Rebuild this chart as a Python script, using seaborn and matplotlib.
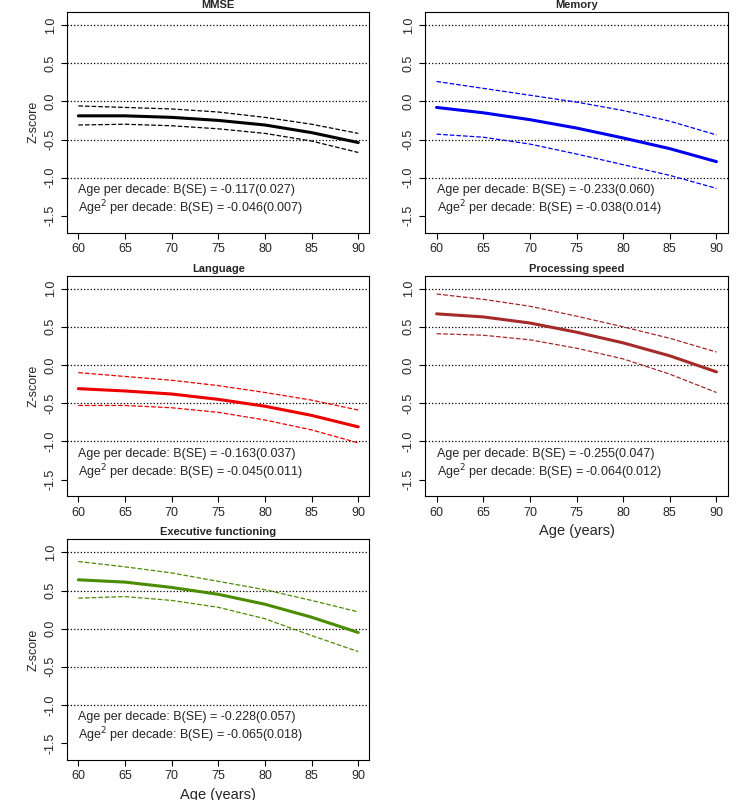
import matplotlib
matplotlib.use("Agg")
import matplotlib.pyplot as plt
import seaborn as sns
import pandas as pd

ages = [60, 65, 70, 75, 80, 85, 90]
titles = ["MMSE", "Memory", "Language", "Processing speed", "Executive functioning"]
colors = ["black", "#0000ee", "#ee0000", "#a52a2a", "#4c8c00"]
mmse_mean = [-0.19, -0.19, -0.21, -0.25, -0.31, -0.41, -0.54]
mmse_up = [-0.06, -0.08, -0.10, -0.14, -0.21, -0.30, -0.42]
mmse_lo = [-0.31, -0.30, -0.32, -0.36, -0.42, -0.52, -0.67]
mem_mean = [-0.08, -0.15, -0.24, -0.35, -0.48, -0.62, -0.79]
mem_up = [0.26, 0.17, 0.08, -0.01, -0.12, -0.26, -0.44]
mem_lo = [-0.43, -0.47, -0.56, -0.69, -0.83, -0.97, -1.14]
lang_mean = [-0.31, -0.34, -0.38, -0.45, -0.54, -0.66, -0.81]
lang_up = [-0.10, -0.15, -0.20, -0.27, -0.36, -0.46, -0.59]
lang_lo = [-0.53, -0.53, -0.56, -0.62, -0.72, -0.85, -1.02]
ps_mean = [0.67, 0.63, 0.55, 0.43, 0.29, 0.12, -0.09]
ps_up = [0.93, 0.86, 0.77, 0.64, 0.50, 0.35, 0.17]
ps_lo = [0.41, 0.39, 0.33, 0.22, 0.08, -0.12, -0.36]
ef_mean = [0.64, 0.61, 0.54, 0.45, 0.32, 0.15, -0.05]
ef_up = [0.88, 0.81, 0.73, 0.62, 0.51, 0.37, 0.22]
ef_lo = [0.40, 0.42, 0.37, 0.28, 0.13, -0.09, -0.30]
b_age = ["-0.117(0.027)", "-0.233(0.060)", "-0.163(0.037)", "-0.255(0.047)", "-0.228(0.057)"]
b_age2 = ["-0.046(0.007)", "-0.038(0.014)", "-0.045(0.011)", "-0.064(0.012)", "-0.065(0.018)"]
yticks = [-1.5, -1.0, -0.5, 0.0, 0.5, 1.0]
xticks = [60, 65, 70, 75, 80, 85, 90]

series = [(mmse_mean, mmse_up, mmse_lo), (mem_mean, mem_up, mem_lo),
          (lang_mean, lang_up, lang_lo), (ps_mean, ps_up, ps_lo), (ef_mean, ef_up, ef_lo)]

sns.set_style("white")
plt.rcParams['font.family'] = ['Liberation Sans', 'DejaVu Sans']
fig, axes = plt.subplots(3, 2, figsize=(7.38, 8.0), dpi=100)
fig.subplots_adjust(left=0.091, right=0.986, top=0.985, bottom=0.05, hspace=0.195, wspace=0.185)
axes = axes.flatten()
axes[5].axis("off")
for i, (ax, (m, u, l)) in enumerate(zip(axes, series)):
    df = pd.DataFrame({"age": ages, "mean": m, "up": u, "lo": l})
    sns.lineplot(data=df, x="age", y="mean", ax=ax, color=colors[i], lw=2.2)
    sns.lineplot(data=df, x="age", y="up", ax=ax, color=colors[i], lw=0.9, linestyle="--")
    sns.lineplot(data=df, x="age", y="lo", ax=ax, color=colors[i], lw=0.9, linestyle="--")
    for y in [-1.0, -0.5, 0.0, 0.5, 1.0]:
        ax.axhline(y, color="black", lw=0.9, linestyle=":", zorder=0)
    ax.set_xlim(58.8, 91.2)
    ax.set_ylim(-1.72, 1.17)
    ax.set_yticks(yticks)
    ax.set_yticklabels([f"{t:.1f}" for t in yticks], rotation=90, va="center", fontsize=9)
    ax.set_xticks(xticks)
    ax.set_xticklabels([str(t) for t in xticks], fontsize=9)
    ax.set_title(titles[i], fontsize=8, fontweight="bold", pad=3)
    ax.set_ylabel("Z-score" if i % 2 == 0 else "", fontsize=9)
    ax.set_xlabel("Age (years)" if i in (3, 4) else "", fontsize=10.5)
    for s in ax.spines.values():
        s.set_color("black"); s.set_linewidth(0.8)
    ax.tick_params(axis="both", length=4, color="black", direction="out", left=True, bottom=True)
    ax.text(60, -1.16, f"Age per decade: B(SE) = {b_age[i]}", fontsize=9, va="center")
    ax.text(60, -1.40, f"Age$^2$ per decade: B(SE) = {b_age2[i]}", fontsize=9, va="center")
fig.savefig("out.png", dpi=100)
